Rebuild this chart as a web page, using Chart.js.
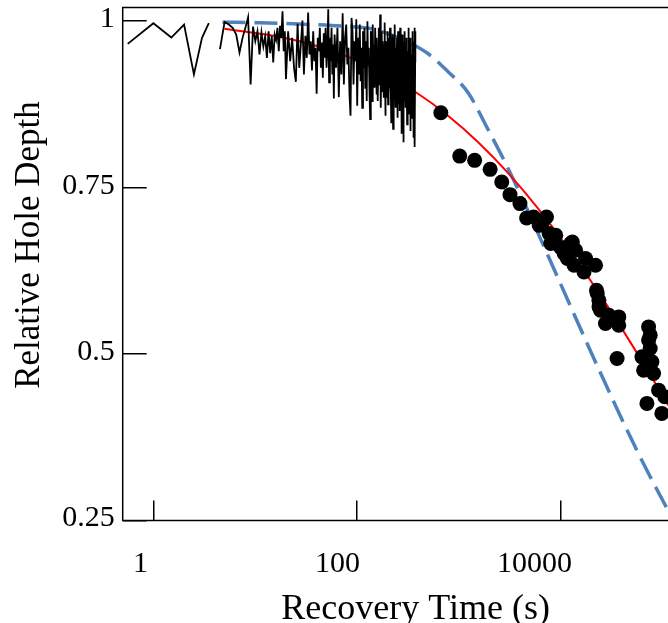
<!DOCTYPE html>
<html><head><meta charset="utf-8">
<script src="https://cdn.jsdelivr.net/npm/chart.js@4.4.1/dist/chart.umd.min.js"></script>
<style>html,body{margin:0;padding:0;overflow:hidden;background:#fff;width:668px;height:623px}</style>
</head><body>
<canvas id="c" width="716" height="623" style="display:block"></canvas>
<script>
const xTitle = 'Recovery Time (s)';
const yTitle = 'Relative Hole Depth';
const xTickValues = [1, 100, 10000];
const xTickLabels = ['1', '100', '10000'];
const yTickValues = [0.25, 0.5, 0.75, 1];
const yTickLabels = ['0.25', '0.5', '0.75', '1'];

// raw hole-depth trace (black line)
const rawTime = [
  0.56,1,1.5,2,2.5,3,3.5,4,
  4.5,5,5.5,6,6.5,7,7.5,8,8.5,9,9.5,10,10.5,11,11.5,12,12.5,13,13.5,14,14.5,15,15.5,16,16.5,17,17.5,18,18.5,19,19.5,20,
  21,22,23,24,25,26,27,28,29,30,31,32,33,34,35,36,37,38,39,40,41,42,43,44,45,46,47,48,49,50,51,52,53,54,55,56,57,58,59,60,
  62,64,66,68,70,72,74,76,78,80,82,84,86,88,90,92,94,96,98,100,102,104,106,108,110,112,114,116,118,120,122,124,126,128,130,132,134,136,138,140,142,144,146,148,150,
  153,154.5,156,157.5,159,160.5,162,163.5,165,166.5,168,169.5,171,172.5,174,175.5,177,178.5,180,181.5,
  183,184.5,186,187.5,189,190.5,192,193.5,195,196.5,198,199.5,201,202.5,204,205.5,207,208.5,210,211.5,
  213,214.5,216,217.5,219,220.5,222,223.5,225,226.5,228,229.5,231,232.5,234,235.5,237,238.5,240,241.5,
  243,244.5,246,247.5,249,250.5,252,253.5,255,256.5,258,259.5,261,262.5,264,265.5,267,268.5,270,271.5,
  273,274.5,276,277.5,279,280.5,282,283.5,285,286.5,288,289.5,291,292.5,294,295.5,297,298.5,300,301.5,
  303,304.5,306,307.5,309,310.5,312,313.5,315,316.5,318,319.5,321,322.5,324,325.5,327,328.5,330,331.5,
  333,334.5,336,337.5,339,340.5,342,343.5,345,346.5,348,349.5,351,352.5,354,355.5,357,358.5,360,361.5,
  363,364.5,366,367.5,369,370.5,372
];
const rawDepth = [
  0.966,0.997,0.9755,0.995,0.92,0.975,0.997,null,
  0.958,0.999,0.995,0.99,0.98,0.953,0.975,0.99,1.006,0.905,0.992,0.97,0.985,0.95,0.983,0.962,0.977,0.945,0.985,0.952,0.978,0.938,0.98,0.972,0.99,0.955,0.993,0.975,1.015,0.955,0.985,0.913,
  0.985,0.94,0.975,0.93,0.909,0.996,0.93,0.965,1.001,0.92,0.978,0.945,1.013,0.95,0.97,0.926,0.985,0.94,0.96,0.891,
  0.975,0.955,0.99,0.93,0.968,0.915,0.982,0.945,0.99,0.93,0.96,1.018,0.908,0.975,0.94,0.99,0.92,0.965,0.884,0.98,
  0.93,0.99,0.886,0.97,0.92,1.012,0.905,0.975,0.995,0.935,0.96,0.89,0.858,1.005,0.985,0.905,0.97,0.94,1.003,0.873,
  0.975,0.92,0.995,0.91,0.96,0.87,0.985,0.93,0.99,0.9,0.97,0.88,1.0,0.935,0.96,0.895,0.853,0.985,0.975,0.88,
  0.995,0.925,0.965,0.9,0.99,
  0.93,0.89,0.975,0.94,0.88,0.925,0.99,0.96,0.905,0.935,1.01,0.9,0.87,0.945,0.985,0.895,0.92,0.97,0.95,0.915,
  0.885,0.94,0.998,0.91,0.858,0.935,0.97,0.885,0.91,0.955,0.985,0.92,0.875,0.975,0.955,0.925,0.9,0.945,0.99,0.895,
  0.965,0.91,0.848,0.975,0.92,0.88,0.98,0.93,0.8385,0.905,0.95,0.975,0.89,0.93,0.995,0.915,0.87,0.96,0.94,0.88,
  0.9,0.935,0.975,0.905,0.855,0.945,0.985,0.875,0.91,0.95,0.96,0.9,0.865,0.94,0.99,0.915,0.885,0.93,0.955,0.885,
  0.831,0.925,0.98,0.9,0.85,0.935,0.97,0.895,0.818,0.96,0.945,0.88,0.9,0.94,0.985,0.91,0.87,0.935,0.96,0.93,
  0.895,0.87,0.975,0.94,0.845,0.91,0.955,0.875,0.905,0.95,0.99,0.905,0.86,0.965,0.94,0.915,0.88,0.945,0.975,0.9,
  0.835,0.92,0.965,0.86,0.89,0.945,0.95,0.905,0.855,0.935,0.985,0.915,0.87,0.955,0.94,0.89,0.825,0.93,0.97,0.905,
  0.86,0.945,0.99,0.9,0.811,0.94,0.985
];

// fitted curve (red)
const fitTime  = [4.98, 19.14, 58.9, 161.7, 379.7, 779.4, 1529, 3000, 5887, 11545, 22650, 44440, 102050, 280400];
const fitDepth = [0.9886, 0.9751, 0.9545, 0.9257, 0.8929, 0.8581, 0.8187, 0.7726, 0.7197, 0.6604, 0.5956, 0.5258, 0.4347, 0.3189];

// model curve (blue dashed)
const theoryTime  = [4.76, 10.92, 26.8, 56.3, 138.2, 202.5, 317.3, 497.4, 779.4, 1221, 1914, 3000, 4700, 9225, 22650, 55660, 102050, 280400];
const theoryDepth = [0.9985, 0.9977, 0.9958, 0.9935, 0.9886, 0.9808, 0.9685, 0.9511, 0.9241, 0.893, 0.8378, 0.78, 0.7162, 0.616, 0.4824, 0.3549, 0.277, 0.153];

// measured points (black dots)
const dotTime = [661.6, 1014, 1420, 2016, 2621, 3159, 3955, 4597, 5379, 7204, 6114, 7653, 6583, 8878, 7934, 9900, 10720, 12450,
  12920, 13910, 11540, 13420, 17420, 21810, 16810, 22300, 22650, 23530, 23600, 24400, 29470, 36880, 27300, 36880,
  72350, 75000, 35490, 72350, 75000, 62250, 77950, 64680, 80950, 90600, 69650, 97560, 104300];
const dotDepth = [0.8625, 0.7974, 0.791, 0.7775, 0.7584, 0.7395, 0.726, 0.7044, 0.7059, 0.7059, 0.6934, 0.681, 0.6984, 0.6784, 0.666, 0.66, 0.651, 0.666,
  0.6684, 0.6559, 0.6435, 0.6334, 0.6435, 0.6334, 0.6233, 0.5959, 0.591, 0.5809, 0.571, 0.5659, 0.5584, 0.5558, 0.5459, 0.5434,
  0.5408, 0.5284, 0.4934, 0.5209, 0.5084, 0.4958, 0.4883, 0.4758, 0.4709, 0.4458, 0.4259, 0.4109, 0.4358];

const FONT = "'Liberation Serif', 'Times New Roman', serif";
Chart.defaults.font.family = FONT;
Chart.defaults.color = '#000';

const toPts = (xs, ys) => xs.map((x, i) => ({x: x, y: ys[i]}));
const noPad = s => { s.paddingTop = 0; s.paddingBottom = 0; s.paddingLeft = 0; s.paddingRight = 0; };

const framePlugin = {
  id: 'frame',
  afterDatasetsDraw(chart) {
    const a = chart.chartArea, ctx = chart.ctx;
    ctx.save();
    ctx.strokeStyle = '#000';
    ctx.lineWidth = 1.5;
    ctx.strokeRect(a.left, a.top, a.right - a.left, a.bottom - a.top);
    ctx.restore();
  }
};

const titlePlugin = {
  id: 'axisTitles',
  afterDraw(chart) {
    const a = chart.chartArea, ctx = chart.ctx;
    ctx.save();
    ctx.fillStyle = '#000';
    ctx.textAlign = 'center';
    ctx.textBaseline = 'alphabetic';
    ctx.font = '36px ' + FONT;
    ctx.fillText(xTitle, (a.left + a.right) / 2, 619);
    ctx.font = '35px ' + FONT;
    ctx.translate(39, 245);
    ctx.rotate(-Math.PI / 2);
    ctx.fillText(yTitle, 0, 0);
    ctx.restore();
  }
};

new Chart(document.getElementById('c'), {
  type: 'line',
  data: {
    datasets: [
      {label: 'model', data: toPts(theoryTime, theoryDepth), borderColor: '#4f81bd', borderWidth: 3.5,
       borderDash: [23, 9], pointRadius: 0, cubicInterpolationMode: 'monotone', fill: false, order: 4},
      {label: 'fit', data: toPts(fitTime, fitDepth), borderColor: '#ff0000', borderWidth: 2,
       pointRadius: 0, cubicInterpolationMode: 'monotone', fill: false, order: 3},
      {label: 'raw', data: toPts(rawTime, rawDepth), borderColor: '#000', borderWidth: 1.8,
       pointRadius: 0, tension: 0, spanGaps: false, fill: false, order: 2},
      {label: 'measured', data: toPts(dotTime, dotDepth), showLine: false, pointRadius: 7.5,
       pointBackgroundColor: '#000', pointBorderWidth: 0, order: 1}
    ]
  },
  options: {
    responsive: false, animation: false, devicePixelRatio: 1, events: [],
    layout: {padding: {top: 7, left: 0, right: 4, bottom: 0}},
    plugins: {legend: {display: false}, tooltip: {enabled: false}},
    scales: {
      x: {
        type: 'logarithmic', position: 'bottom', min: 0.5, max: 280000,
        afterBuildTicks: s => { s.ticks = xTickValues.map(v => ({value: v})); },
        afterFit: s => { s.height = 0; noPad(s); },
        ticks: {display: false},
        grid: {drawOnChartArea: false, drawTicks: true, tickLength: -20, color: '#000', lineWidth: 1.5},
        border: {display: false}
      },
      xLabels: {
        type: 'logarithmic', axis: 'x', position: 'bottom', min: 0.66, max: 583000,
        afterBuildTicks: s => { s.ticks = xTickValues.map(v => ({value: v})); },
        afterFit: s => { s.height = 102.5; noPad(s); },
        ticks: {font: {size: 30}, color: '#000', padding: 26, maxRotation: 0, autoSkip: false,
                callback: (v, i) => xTickLabels[i]},
        grid: {display: false, drawTicks: false},
        border: {display: false}
      },
      y: {
        type: 'linear', position: 'left', min: 0.25, max: 1.0206,
        afterBuildTicks: s => { s.ticks = yTickValues.map(v => ({value: v})); },
        afterFit: s => { s.width = 122.7; noPad(s); },
        ticks: {font: {size: 30}, color: '#000', padding: 32, labelOffset: -2, autoSkip: false,
                callback: (v, i) => yTickLabels[i]},
        grid: {drawOnChartArea: false, drawTicks: true, tickLength: -24, color: '#000', lineWidth: 1.5},
        border: {display: false}
      }
    }
  },
  plugins: [framePlugin, titlePlugin]
});
</script>
</body></html>
